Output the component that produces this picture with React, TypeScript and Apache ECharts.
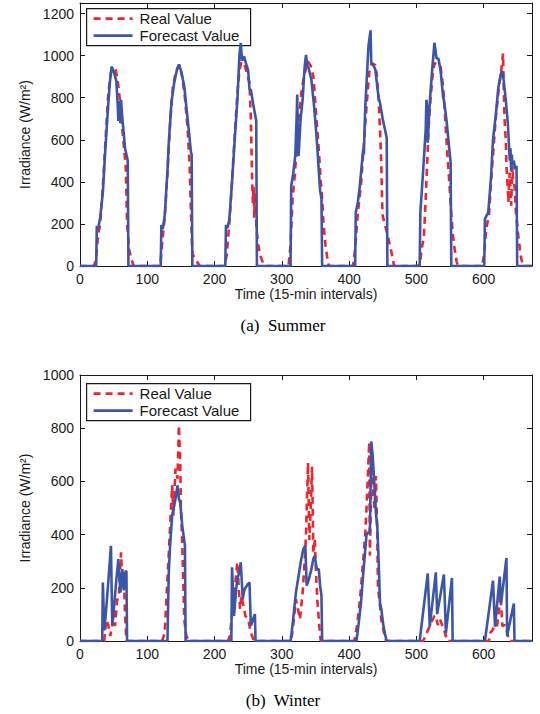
import React, { useEffect, useRef } from "react";
import * as echarts from "echarts";

// ---- data: [time index (15-min intervals), irradiance W/m²] ----
const summerReal: [number, number][] = [
  [0, 0], [21, 0], [24, 40], [27, 150], [30, 200], [34, 380], [38, 600], [42, 820], [46, 920], [50, 940], [53, 935], [56, 880], [60, 770], [63, 650], [66, 540], [68, 475], [70, 200], [73, 80], [76, 35], [80, 0],
  [117, 0], [120, 30], [123, 140], [126, 230], [130, 440], [134, 680], [138, 850], [143, 930], [148, 955], [152, 900], [156, 800], [160, 650], [163, 475], [165, 250], [167, 60], [170, 40], [174, 20], [178, 0],
  [215, 0], [218, 50], [222, 200], [226, 400], [230, 620], [234, 820], [237, 930], [240, 970], [244, 960], [248, 920], [252, 870], [254, 700], [256, 400], [257, 300], [258, 380], [259, 230], [260, 350], [261, 250], [263, 160], [265, 100], [268, 50], [272, 15], [276, 0],
  [310, 0], [313, 100], [316, 318], [319, 420], [321, 507], [324, 600], [326, 712], [329, 820], [332, 885], [336, 940], [339, 972], [343, 950], [347, 900], [351, 720], [355, 554], [358, 400], [360, 318], [362, 200], [365, 98], [368, 30], [370, 0],
  [406, 0], [409, 80], [413, 250], [418, 397], [422, 580], [426, 759], [430, 920], [434, 964], [439, 955], [441, 916], [444, 790], [446, 650], [448, 480], [449, 320], [450, 240], [453, 200], [457, 150], [462, 82], [467, 0],
  [503, 0], [506, 30], [509, 100], [511, 130], [513, 250], [516, 475], [518, 640], [521, 790], [524, 900], [527, 964], [531, 960], [536, 948], [540, 850], [543, 700], [546, 539], [549, 400], [552, 250], [554, 160], [557, 80], [560, 20], [562, 0],
  [598, 0], [601, 60], [604, 180], [608, 240], [612, 440], [618, 700], [623, 854], [626, 920], [629, 1010], [630, 840], [631, 712], [632, 650], [633, 602], [634, 480], [636, 365], [637, 302], [638, 400], [639, 444], [640, 350], [641, 287], [642, 380], [643, 475], [644, 400], [646, 381], [648, 260], [651, 160], [654, 80], [656, 35], [659, 0], [672, 0],
];

const summerForecast: [number, number][] = [
  [0, 0], [24, 0], [25, 190], [27, 176], [30, 230], [34, 350], [37, 520], [40, 670], [44, 860], [47, 948], [50, 925], [54, 880], [56, 770], [57, 690], [58, 785], [59, 750], [60, 680], [61, 790], [63, 700], [67, 560], [71, 500], [72, 0],
  [120, 0], [121, 195], [123, 175], [126, 240], [130, 450], [132, 585], [136, 780], [140, 870], [144, 930], [147, 958], [150, 930], [155, 855], [157, 790], [160, 700], [165, 540], [166, 530], [167, 0],
  [216, 0], [217, 195], [219, 180], [222, 220], [226, 397], [230, 600], [234, 790], [237, 1000], [239, 1060], [241, 975], [242, 990], [244, 995], [247, 960], [250, 930], [252, 840], [254, 838], [258, 760], [262, 690], [263, 0],
  [313, 0], [314, 380], [317, 440], [320, 523], [322, 700], [323, 815], [324, 540], [325, 523], [328, 700], [331, 790], [334, 948], [336, 1003], [338, 950], [340, 940], [344, 885], [348, 760], [352, 602], [357, 357], [359, 320], [360, 0],
  [409, 0], [410, 255], [413, 300], [416, 381], [420, 520], [421, 554], [422, 530], [424, 750], [426, 869], [429, 1050], [432, 1120], [433, 965], [436, 955], [439, 935], [442, 850], [444, 800], [446, 775], [450, 700], [456, 610], [457, 0],
  [505, 0], [506, 255], [510, 444], [514, 650], [515, 790], [516, 760], [517, 586], [519, 720], [521, 822], [524, 950], [527, 1061], [530, 987], [533, 985], [536, 930], [540, 800], [541, 790], [545, 690], [551, 491], [552, 0],
  [601, 0], [602, 224], [607, 255], [611, 420], [614, 600], [618, 712], [622, 850], [626, 917], [628, 925], [630, 880], [633, 790], [636, 680], [638, 560], [639, 500], [640, 560], [641, 450], [642, 530], [643, 480], [645, 500], [647, 460], [649, 475], [650, 0], [672, 0],
];

const winterReal: [number, number][] = [
  [0, 0], [36, 0], [39, 80], [42, 60], [45, 19], [48, 60], [50, 107], [52, 57], [55, 150], [58, 182], [61, 333], [63, 208], [65, 258], [67, 100], [69, 0],
  [122, 0], [126, 30], [129, 182], [132, 330], [134, 434], [137, 585], [139, 472], [142, 648], [145, 610], [147, 811], [149, 673], [150, 500], [152, 371], [155, 82], [158, 20], [162, 0],
  [220, 0], [223, 20], [226, 100], [229, 145], [232, 250], [234, 296], [236, 200], [238, 120], [240, 170], [242, 145], [244, 120], [246, 94], [250, 82], [254, 31], [258, 6], [260, 0],
  [314, 0], [317, 60], [321, 157], [324, 120], [327, 82], [331, 182], [334, 300], [336, 400], [339, 670], [341, 380], [343, 500], [345, 655], [347, 330], [349, 384], [351, 250], [353, 150], [356, 50], [358, 0],
  [408, 0], [412, 60], [416, 150], [418, 208], [421, 300], [424, 400], [426, 500], [428, 620], [430, 748], [431, 321], [433, 600], [434, 686], [436, 550], [438, 497], [440, 620], [442, 400], [443, 200], [445, 157], [448, 82], [452, 30], [455, 0],
  [510, 0], [514, 20], [518, 45], [522, 70], [527, 94], [529, 95], [532, 60], [535, 82], [538, 63], [541, 44], [546, 0],
  [608, 0], [610, 31], [613, 40], [617, 60], [620, 56], [623, 120], [625, 175], [628, 56], [631, 60], [633, 56], [636, 20], [638, 0], [672, 0],
];

const winterForecast: [number, number][] = [
  [0, 0], [33, 0], [34, 220], [36, 40], [38, 90], [42, 220], [46, 358], [48, 60], [50, 110], [54, 230], [57, 308], [60, 182], [63, 270], [65, 190], [68, 265], [69, 260], [70, 0],
  [130, 0], [132, 258], [134, 360], [137, 472], [142, 535], [145, 585], [147, 535], [149, 520], [152, 434], [156, 358], [157, 0],
  [225, 0], [226, 277], [229, 94], [232, 190], [234, 233], [237, 260], [239, 296], [242, 157], [244, 190], [246, 200], [250, 215], [252, 220], [254, 57], [257, 80], [260, 101], [261, 0],
  [313, 0], [316, 60], [321, 182], [325, 245], [329, 308], [332, 345], [335, 358], [337, 208], [340, 230], [344, 270], [347, 310], [349, 320], [352, 270], [355, 270], [357, 208], [359, 170], [360, 0],
  [411, 0], [414, 60], [418, 150], [421, 250], [424, 340], [426, 400], [429, 410], [431, 409], [433, 750], [435, 700], [437, 620], [440, 480], [442, 430], [444, 300], [446, 143], [448, 120], [451, 59], [454, 20], [456, 0],
  [505, 0], [517, 254], [520, 54], [529, 258], [531, 101], [541, 250], [544, 30], [553, 237], [554, 0],
  [602, 0], [614, 227], [617, 54], [624, 242], [626, 141], [634, 312], [635, 20], [645, 141], [646, 0], [672, 0],
];

const xMax = 672;
const xInterval = 100;
const yInterval = 200;
const summerYMax = 1250;
const winterYMax = 1000;
const legendNames = ["Real Value", "Forecast Value"];
const captions = ["(a)  Summer", "(b)  Winter"];
const xTitle = "Time (15-min intervals)";
const yTitle = "Irradiance (W/m²)";

const RED = "#f0242c";
const BLUE = "#3b56a8";
const AX = "#1a1a1a";
const SANS = "'Liberation Sans', Arial, Helvetica, sans-serif";
const SERIF = "'Liberation Serif', 'Times New Roman', serif";

const grids = [
  { left: 80, top: 3, width: 452, height: 263 },
  { left: 80, top: 375, width: 452, height: 266 },
];

function buildOption() {
  const xAxis: any[] = [];
  const yAxis: any[] = [];
  const yMaxes = [summerYMax, winterYMax];
  grids.forEach((_, g) => {
    const tick = { show: true, inside: true, length: 5, lineStyle: { color: AX, width: 1 } };
    const line = { show: true, onZero: false, lineStyle: { color: AX, width: 1 } };
    xAxis.push({
      type: "value", gridIndex: g, position: "bottom", min: 0, max: xMax, interval: xInterval,
      axisLine: line, axisTick: tick, splitLine: { show: false },
      axisLabel: {
        color: AX, fontSize: 14, fontFamily: SANS, margin: 6,
        formatter: (v: number) => (v % xInterval === 0 ? String(v) : ""),
      },
      name: xTitle, nameLocation: "middle", nameGap: 20,
      nameTextStyle: { color: AX, fontSize: 14, fontFamily: SANS },
    });
    xAxis.push({
      type: "value", gridIndex: g, position: "top", min: 0, max: xMax, interval: xInterval,
      axisLine: line, axisTick: tick, splitLine: { show: false }, axisLabel: { show: false },
    });
    yAxis.push({
      type: "value", gridIndex: g, position: "left", min: 0, max: yMaxes[g], interval: yInterval,
      axisLine: line, axisTick: tick, splitLine: { show: false },
      axisLabel: {
        color: AX, fontSize: 14, fontFamily: SANS, margin: 6,
        formatter: (v: number) => (v % yInterval === 0 ? String(v) : ""),
      },
      name: yTitle, nameLocation: "middle", nameGap: 47, nameRotate: 90,
      nameTextStyle: { color: AX, fontSize: 14, fontFamily: SANS },
    });
    yAxis.push({
      type: "value", gridIndex: g, position: "right", min: 0, max: yMaxes[g], interval: yInterval,
      axisLine: line, axisTick: tick, splitLine: { show: false }, axisLabel: { show: false },
    });
  });

  const mk = (name: string, data: [number, number][], g: number, real: boolean) => ({
    type: "line", name, data, xAxisIndex: g * 2, yAxisIndex: g * 2,
    symbol: "none", showSymbol: false, clip: true,
    lineStyle: real
      ? { color: RED, width: 2.6, type: [7, 5] }
      : { color: BLUE, width: 2.6, type: "solid" },
    itemStyle: { color: real ? RED : BLUE },
  });

  const series = [
    mk(legendNames[0], summerReal, 0, true),
    mk(legendNames[1], summerForecast, 0, false),
    mk(legendNames[0], winterReal, 1, true),
    mk(legendNames[1], winterForecast, 1, false),
  ];

  const legendGraphic = (top: number) => ({
    type: "group", left: 86, top,
    children: [
      { type: "rect", shape: { x: 0, y: 0, width: 164, height: 37 }, style: { fill: "#fff", stroke: AX, lineWidth: 1.2 } },
      { type: "line", shape: { x1: 7, y1: 10, x2: 46, y2: 10 }, style: { stroke: RED, lineWidth: 2.6, lineDash: [7, 5] } },
      { type: "line", shape: { x1: 7, y1: 27, x2: 46, y2: 27 }, style: { stroke: BLUE, lineWidth: 2.6 } },
      { type: "text", x: 53, y: 10, style: { text: legendNames[0], fill: AX, font: `15px ${SANS}`, verticalAlign: "middle" } },
      { type: "text", x: 53, y: 27, style: { text: legendNames[1], fill: AX, font: `15px ${SANS}`, verticalAlign: "middle" } },
    ],
  });

  return {
    animation: false,
    backgroundColor: "#fff",
    grid: grids.map((gr) => ({ ...gr, show: false })),
    xAxis,
    yAxis,
    series,
    graphic: [
      legendGraphic(8),
      legendGraphic(383),
      { type: "text", x: 283, y: 325, style: { text: captions[0], fill: "#000", font: `17px ${SERIF}`, align: "center", verticalAlign: "middle" } },
      { type: "text", x: 283, y: 700, style: { text: captions[1], fill: "#000", font: `17px ${SERIF}`, align: "center", verticalAlign: "middle" } },
    ],
  };
}

export default function App() {
  const ref = useRef<HTMLDivElement>(null);
  useEffect(() => {
    if (!ref.current) return;
    const chart = echarts.init(ref.current, undefined, { renderer: "svg" });
    chart.setOption(buildOption() as any);
    return () => chart.dispose();
  }, []);
  return (
    <div
      ref={ref}
      style={{ position: "fixed", left: 0, top: 0, width: 540, height: 714, background: "#fff" }}
    />
  );
}
